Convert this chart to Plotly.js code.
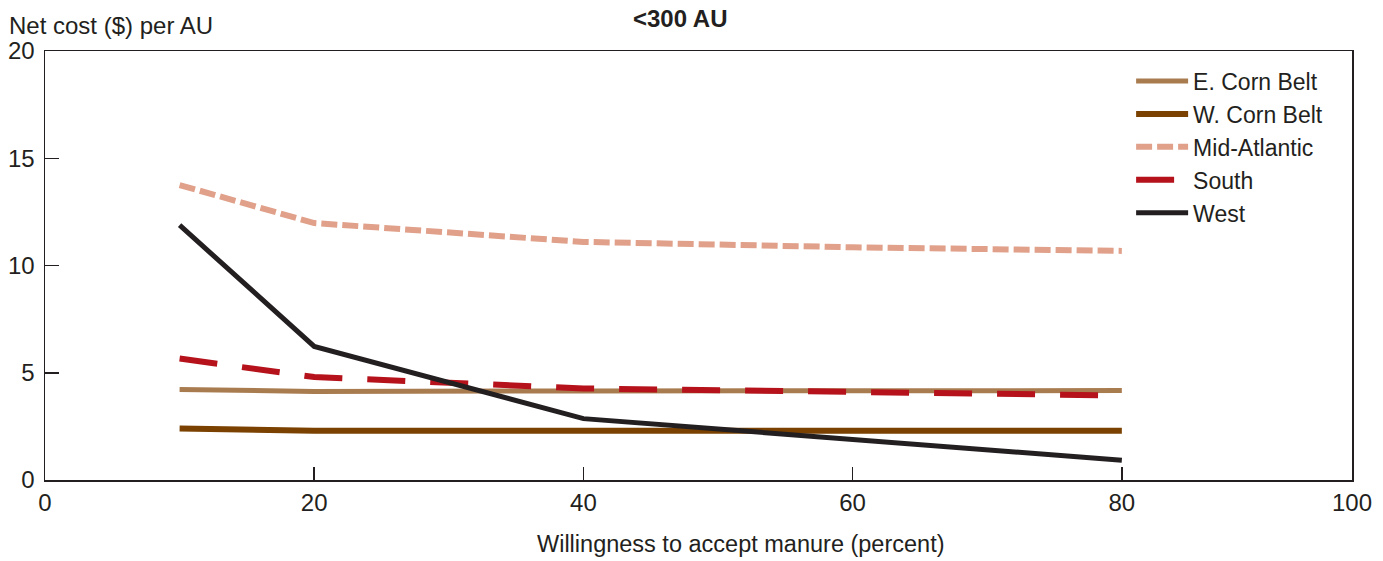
<!DOCTYPE html>
<html>
<head>
<meta charset="utf-8">
<script src="https://cdn.plot.ly/plotly-3.0.1.min.js"></script>
<style>html,body{margin:0;padding:0;background:#fff;}#chart{width:1383px;height:561px;}</style>
</head>
<body>
<div id="chart"></div>
<script>
const willingness = [10, 20, 40, 60, 80];
const eCornBelt   = [4.22, 4.13, 4.15, 4.16, 4.17];
const wCornBelt   = [2.40, 2.30, 2.30, 2.30, 2.30];
const midAtlantic = [13.75, 11.98, 11.10, 10.85, 10.68];
const south       = [5.66, 4.80, 4.27, 4.10, 3.94];
const west        = [11.88, 6.23, 2.86, 1.88, 0.92];
const seriesNames = ['E. Corn Belt', 'W. Corn Belt', 'Mid-Atlantic', 'South', 'West'];
const xTickVals = [0, 20, 40, 60, 80, 97.1];
const xTickText = ['0', '20', '40', '60', '80', '100'];
const yTickVals = [0, 5, 10, 15, 20];

const font = 'Liberation Sans, Arial, Helvetica, sans-serif';
const txt = '#231f20';

const traces = [
  {x: willingness, y: eCornBelt, name: seriesNames[0], mode: 'lines', line: {color: '#a97c50', width: 5}},
  {x: willingness, y: wCornBelt, name: seriesNames[1], mode: 'lines', line: {color: '#7a4100', width: 6}},
  {x: willingness, y: midAtlantic, name: seriesNames[2], mode: 'lines', line: {color: '#e0a08a', width: 6, dash: '16px,5px'}},
  {x: willingness, y: south, name: seriesNames[3], mode: 'lines', line: {color: '#b5121b', width: 6, dash: '38px,25px'}},
  {x: willingness, y: west, name: seriesNames[4], mode: 'lines', line: {color: '#231f20', width: 5}}
];

const layout = {
  width: 1383, height: 561,
  margin: {l: 45, r: 31, t: 51, b: 81},
  paper_bgcolor: '#fff', plot_bgcolor: '#fff',
  font: {family: font, size: 24, color: txt},
  showlegend: true,
  legend: {x: 0.831, y: 0.980, xanchor: 'left', yanchor: 'top', bgcolor: 'rgba(0,0,0,0)',
           font: {size: 23, color: txt}, itemwidth: 52, tracegroupgap: 0},
  xaxis: {range: [0, 97.1], tickvals: xTickVals, ticktext: xTickText, showgrid: false, zeroline: false,
          showline: true, linecolor: '#231f20', linewidth: 1.5, mirror: true,
          ticks: 'inside', ticklen: 13, tickwidth: 1.5, tickcolor: '#231f20', ticklabelstandoff: 1},
  yaxis: {range: [0, 20], tickvals: yTickVals, showgrid: false, zeroline: false,
          showline: true, linecolor: '#231f20', linewidth: 1.5, mirror: true,
          ticks: 'inside', ticklen: 14, tickwidth: 1.5, tickcolor: '#231f20', ticklabelstandoff: 4},
  annotations: [
    {text: '<b><300 AU</b>', xref: 'paper', yref: 'paper', x: (680-45)/1307, y: 1, yshift: 33,
     showarrow: false, xanchor: 'center', yanchor: 'middle', font: {size: 24, color: txt}},
    {text: 'Net cost ($) per AU', xref: 'paper', yref: 'paper', x: 0, xshift: -38, y: 1, yshift: 26,
     showarrow: false, xanchor: 'left', yanchor: 'middle', font: {size: 24, color: txt}},
    {text: 'Willingness to accept manure (percent)', xref: 'paper', yref: 'paper', x: (741-45)/1307, y: 0, yshift: -64,
     showarrow: false, xanchor: 'center', yanchor: 'middle', font: {size: 23.5, color: txt}}
  ]
};

Plotly.newPlot('chart', traces, layout, {displayModeBar: false, staticPlot: true});
</script>
</body>
</html>
